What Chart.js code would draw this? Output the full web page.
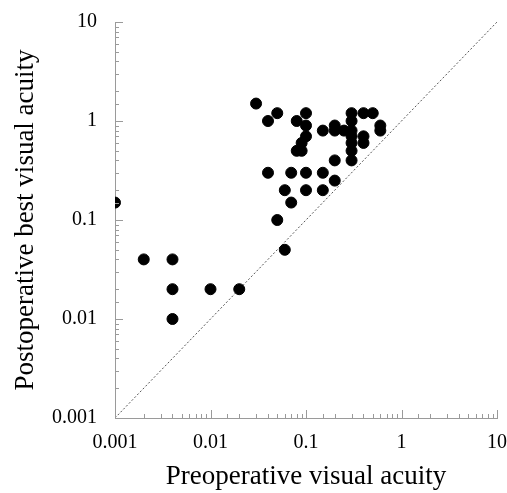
<!DOCTYPE html>
<html lang="en">
<head>
    <meta charset="UTF-8">
    <title>Visual acuity</title>
    <script src="https://cdn.jsdelivr.net/npm/chart.js"></script>
    <style>
        body {
            margin: 0;
            padding: 0;
            background: #ffffff;
        }
        .chart-box {
            width: 507px;
            height: 493px;
        }
    </style>
</head>
<body>
    <div class="chart-box">
        <canvas id="acuityChart"></canvas>
    </div>

    <script>
        // Preoperative (x) and postoperative best (y) visual acuity per eye
        const preop = [0.001, 0.002, 0.004, 0.004, 0.004, 0.01, 0.02,
            0.03, 0.04, 0.05, 0.04, 0.05, 0.06, 0.06, 0.07, 0.07,
            0.08, 0.1, 0.1, 0.1, 0.09, 0.08, 0.09, 0.1, 0.1,
            0.15, 0.15, 0.15, 0.2, 0.2, 0.25, 0.2, 0.2,
            0.3, 0.4, 0.5, 0.3, 0.3, 0.3, 0.3, 0.3, 0.3,
            0.4, 0.4, 0.6, 0.6];
        const postop = [0.15, 0.04, 0.04, 0.02, 0.01, 0.02, 0.02,
            1.5, 1.0, 1.2, 0.3, 0.1, 0.05, 0.2, 0.15, 0.3,
            1.0, 1.2, 0.9, 0.7, 0.6, 0.5, 0.5, 0.3, 0.2,
            0.3, 0.2, 0.8, 0.8, 0.9, 0.8, 0.4, 0.25,
            1.2, 1.2, 1.2, 1.0, 0.8, 0.7, 0.6, 0.5, 0.4,
            0.7, 0.6, 0.9, 0.8];

        // line of no change (y = x)
        const equalX = [0.001, 10];
        const equalY = [0.001, 10];

        const axisMin = 0.001;
        const axisMax = 10;

        const serif = "'Liberation Serif', 'Times New Roman', serif";

        // inward tick marks, long at each decade, short in between
        const innerTicks = {
            id: 'innerTicks',
            afterDraw(chart) {
                const ctx = chart.ctx;
                const xs = chart.scales.x;
                const ys = chart.scales.y;
                const area = chart.chartArea;
                ctx.save();
                ctx.strokeStyle = '#9a9a9a';
                ctx.lineWidth = 1;
                ctx.beginPath();
                xs.ticks.forEach(t => {
                    const major = Math.abs(Math.log10(t.value) - Math.round(Math.log10(t.value))) < 1e-6;
                    const len = major ? 8 : 4;
                    const px = Math.round(xs.getPixelForValue(t.value)) + 0.5;
                    ctx.moveTo(px, area.bottom);
                    ctx.lineTo(px, area.bottom - len);
                });
                ys.ticks.forEach(t => {
                    const major = Math.abs(Math.log10(t.value) - Math.round(Math.log10(t.value))) < 1e-6;
                    const len = major ? 8 : 4;
                    const py = Math.round(ys.getPixelForValue(t.value)) + 0.5;
                    ctx.moveTo(area.left, py);
                    ctx.lineTo(area.left + len, py);
                });
                ctx.stroke();
                ctx.restore();
            }
        };

        function decadeLabel(value) {
            const lg = Math.log10(value);
            if (Math.abs(lg - Math.round(lg)) < 1e-6) {
                return String(Number(value.toPrecision(1)));
            }
            return '';
        }

        const ctx = document.getElementById('acuityChart').getContext('2d');
        const chart = new Chart(ctx, {
            type: 'scatter',
            data: {
                datasets: [{
                    label: 'Eyes',
                    data: preop.map((v, i) => ({ x: v, y: postop[i] })),
                    backgroundColor: '#000000',
                    borderColor: '#000000',
                    pointRadius: 5.5,
                    pointHoverRadius: 5.5,
                    order: 0
                }, {
                    label: 'y = x',
                    type: 'line',
                    data: equalX.map((v, i) => ({ x: v, y: equalY[i] })),
                    borderColor: '#555555',
                    borderWidth: 1,
                    borderDash: [2, 2],
                    pointRadius: 0,
                    fill: false,
                    order: 1
                }]
            },
            options: {
                responsive: true,
                maintainAspectRatio: false,
                animation: false,
                layout: {
                    padding: { top: 22, right: 10, left: 0, bottom: 0 }
                },
                scales: {
                    x: {
                        type: 'logarithmic',
                        min: axisMin,
                        max: axisMax,
                        grid: { display: false, drawTicks: false },
                        border: { display: true, color: '#9a9a9a', width: 1 },
                        ticks: {
                            autoSkip: false,
                            maxRotation: 0,
                            padding: 13,
                            color: '#000000',
                            font: { family: serif, size: 20 },
                            callback: decadeLabel
                        },
                        title: {
                            display: true,
                            text: 'Preoperative visual acuity',
                            color: '#000000',
                            font: { family: serif, size: 27 },
                            padding: { top: 2, bottom: 0 }
                        },
                        afterFit(scale) {
                            scale.height = 75;
                            scale.paddingLeft = 0;
                            scale.paddingRight = 0;
                        }
                    },
                    y: {
                        type: 'logarithmic',
                        min: axisMin,
                        max: axisMax,
                        grid: { display: false, drawTicks: false },
                        border: { display: true, color: '#9a9a9a', width: 1 },
                        ticks: {
                            autoSkip: false,
                            padding: 18,
                            color: '#000000',
                            font: { family: serif, size: 20 },
                            callback: decadeLabel
                        },
                        title: {
                            display: true,
                            text: 'Postoperative best visual acuity',
                            color: '#000000',
                            font: { family: serif, size: 27 },
                            padding: { top: 10, bottom: 0 }
                        },
                        afterFit(scale) {
                            scale.width = 115;
                            scale.paddingTop = 0;
                            scale.paddingBottom = 0;
                        }
                    }
                },
                plugins: {
                    legend: { display: false },
                    tooltip: { enabled: false }
                }
            },
            plugins: [innerTicks]
        });
    </script>
</body>
</html>
